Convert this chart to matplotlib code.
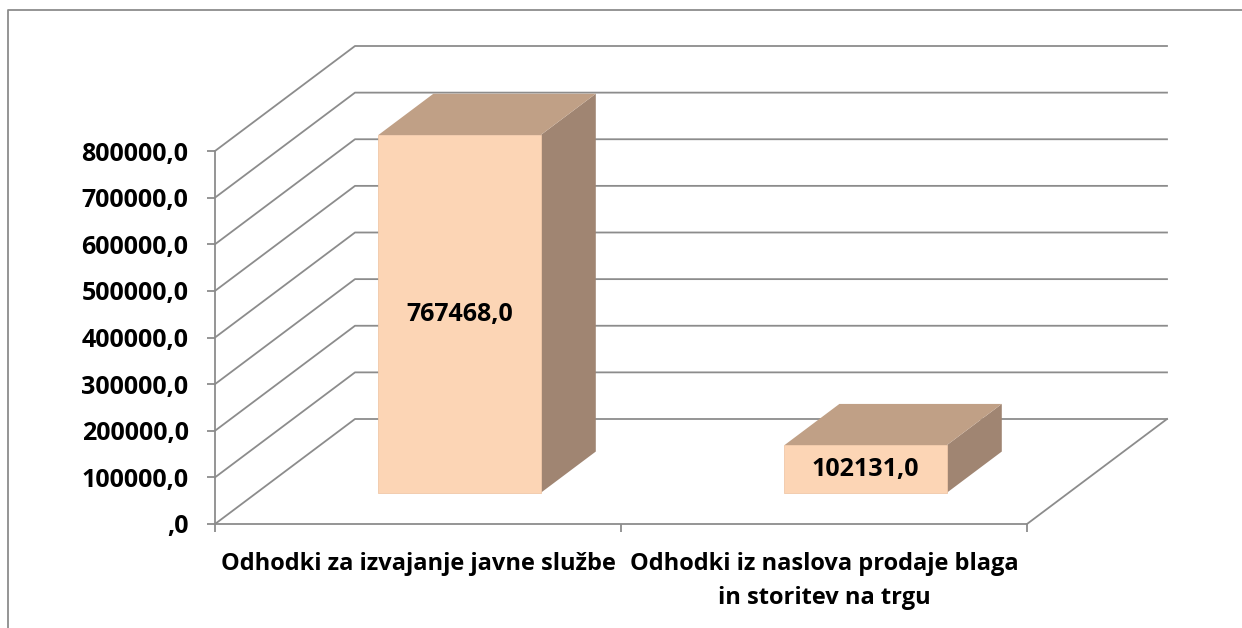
import numpy as np
import matplotlib
matplotlib.use("Agg")
import matplotlib.pyplot as plt
from matplotlib.patches import Polygon
from matplotlib.lines import Line2D
from matplotlib.ticker import FuncFormatter, MultipleLocator

categories = ["Odhodki za izvajanje javne službe",
              "Odhodki iz naslova prodaje blaga\nin storitev na trgu"]
values = [767468.0, 102131.0]
y_max = 800000
y_step = 100000

plt.rcParams['font.family'] = ['Open Sans', 'DejaVu Sans']
plt.rcParams['font.weight'] = 'bold'
FS_NUM = 18
FS_CAT = 17

W, H = 1242, 628
fig = plt.figure(figsize=(W / 100, H / 100), dpi=100)

# front plane of the pseudo-3d box (pixels)
x0, x1 = 215, 1027
y0, y1 = 524, 151
ax = fig.add_axes([x0 / W, (H - y0) / H, (x1 - x0) / W, (y0 - y1) / H])
ax.set_xlim(-0.5, len(categories) - 0.5)
ax.set_ylim(0, y_max)
ax.patch.set_alpha(0)

# depth vector in display pixels
DX, DY = 140, 105
grid_c = '#8c8c8c'
front_c = '#fcd5b5'
top_c = '#c0a086'
side_c = '#a08572'


def proj(x, v, d):
    px, py = ax.transData.transform((x, v))
    return (px + d * DX, py + d * DY)


def draw_poly(pts, fc, ec='none', z=2, lw=0):
    ax.add_patch(Polygon(pts, closed=True, fc=fc, ec=ec, lw=lw,
                         transform=None, clip_on=False, zorder=z))


def draw_line(pts, z=1):
    xs, ys = zip(*pts)
    ax.add_line(Line2D(xs, ys, color=grid_c, lw=1.3, transform=None,
                       clip_on=False, zorder=z))


xl, xr = -0.5, len(categories) - 0.5
levels = np.arange(0, y_max + 1, y_step)
for v in levels:
    # side wall diagonal + back wall line
    draw_line([proj(xl, v, 0), proj(xl, v, 1), proj(xr, v, 1)])
# floor right edge
draw_line([proj(xr, 0, 0), proj(xr, 0, 1)])

# bars
bw = 0.4
d_front, d_back = 0.295, 0.69
for i, v in enumerate(values):
    a, b = i - bw / 2, i + bw / 2
    draw_poly([proj(b, 0, d_front), proj(b, 0, d_back),
               proj(b, v, d_back), proj(b, v, d_front)], side_c, z=3)
    draw_poly([proj(a, v, d_front), proj(a, v, d_back),
               proj(b, v, d_back), proj(b, v, d_front)], top_c, z=3)
    draw_poly([proj(a, 0, d_front), proj(b, 0, d_front),
               proj(b, v, d_front), proj(a, v, d_front)], front_c,
              ec='#f0c8a8', lw=0.6, z=4)
    lab = f"{v:.1f}".replace('.', ',')
    ax.annotate(lab, xy=(i, v / 2), xytext=(d_front * DX, d_front * DY),
                textcoords='offset pixels', ha='center', va='center',
                fontsize=FS_NUM, fontweight='bold', zorder=5)

# axes
for s in ['top', 'right']:
    ax.spines[s].set_visible(False)
for s in ['left', 'bottom']:
    ax.spines[s].set_color(grid_c)
    ax.spines[s].set_linewidth(1.3)
    ax.spines[s].set_zorder(6)

ax.yaxis.set_major_locator(MultipleLocator(y_step))
ax.yaxis.set_major_formatter(FuncFormatter(
    lambda v, _: ('%d' % v if v else '') + ',0'))
ax.tick_params(axis='y', length=6, width=1.3, color=grid_c, pad=13,
               labelsize=FS_NUM)
ax.set_xticks([-0.5, 0.5, 1.5])
ax.set_xticklabels([])
ax.set_xticks(range(len(categories)), minor=True)
ax.set_xticklabels(categories, minor=True, fontsize=FS_CAT, fontweight='bold',
                   linespacing=1.55)
ax.tick_params(axis='x', which='major', length=6, width=1.3, color=grid_c)
ax.tick_params(axis='x', which='minor', length=0, pad=20)
for t in ax.get_yticklabels():
    t.set_fontweight('bold')

# outer chart frame
fig.add_artist(Line2D([8 / W, 8 / W, 1], [0, 1 - 10 / H, 1 - 10 / H],
                      color=grid_c, lw=1.3, transform=fig.transFigure))

fig.savefig("out.png", dpi=100)
